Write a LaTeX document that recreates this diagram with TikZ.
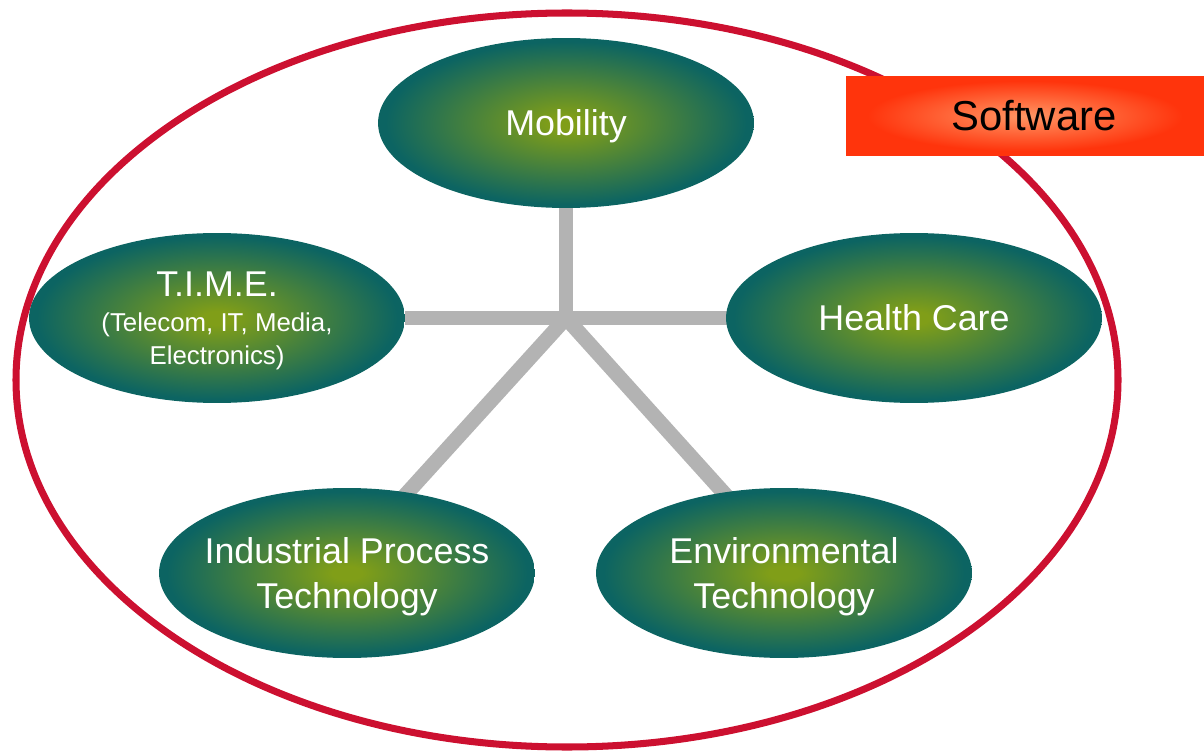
\documentclass[tikz,border=0pt]{standalone}
\usepackage{fontspec}
\setmainfont{Liberation Sans}
\usetikzlibrary{positioning,backgrounds,shapes.geometric}
\definecolor{coreolive}{RGB}{128,158,24}
\definecolor{edgeteal}{RGB}{12,100,98}
\definecolor{ringred}{RGB}{204,16,48}
\definecolor{spokegray}{RGB}{179,179,179}
\definecolor{boxlight}{RGB}{255,150,100}
\definecolor{boxred}{RGB}{255,52,12}
\pgfdeclareradialshading{fieldglow}{\pgfpoint{0bp}{0bp}}{color(0bp)=(coreolive); color(2bp)=(coreolive); color(24bp)=(edgeteal); color(50bp)=(edgeteal)}
\pgfdeclareradialshading{softglow}{\pgfpoint{0bp}{0bp}}{color(0bp)=(boxlight); color(22bp)=(boxred); color(50bp)=(boxred)}
\tikzset{
  field/.style={ellipse,
    shading=fieldglow,
    minimum width=7.52cm,
    minimum height=3.4cm,
    inner xsep=-1.2cm,
    inner ysep=0pt,
    text depth=0pt,
    text=white,
    align=center,
    font=\fontsize{20.4}{25.5}\selectfont},
  spoke/.style={draw=spokegray,line width=8.5pt,shorten >=-6pt},
  ring/.style={draw=ringred,line width=4pt},
  banner/.style={rectangle,
    shading=softglow,
    minimum width=7.16cm,
    minimum height=1.6cm,
    inner sep=0pt,
    font=\fontsize{23.8}{28}\selectfont}
}

\begin{document}
\begin{tikzpicture}[x=0.02cm,y=-0.02cm]
      \useasboundingbox (0,0) rectangle (1204,753);
      \node[field] (mob) at (566,123) {Mobility};
      \node[field] (time) at (217,318) {T.I.M.E.\\[-5.5pt]{\fontsize{14.7}{17}\selectfont (Telecom, IT, Media,}\\[-7pt]{\fontsize{14.7}{17}\selectfont Electronics)}};
      \node[field] (health) at (914,318) {Health Care};
      \node[field] (ind) at (347,573) {Industrial Process\\Technology};
      \node[field] (env) at (784,573) {Environmental\\Technology};
      \coordinate (hub) at (566,318);
      \begin{scope}[on background layer]
        \draw[ring] (567,380) ellipse [x radius=551, y radius=367];
        \draw[spoke] (mob) -- (hub);
        \draw[spoke] (time) -- (health);
        \draw[spoke] (hub) -- (ind.53);
        \draw[spoke] (hub) -- (env.127);
      \end{scope}
      \node[banner] (soft) at (1025,116) {\hspace*{0.36cm}Software};
    \end{tikzpicture}
\end{document}
